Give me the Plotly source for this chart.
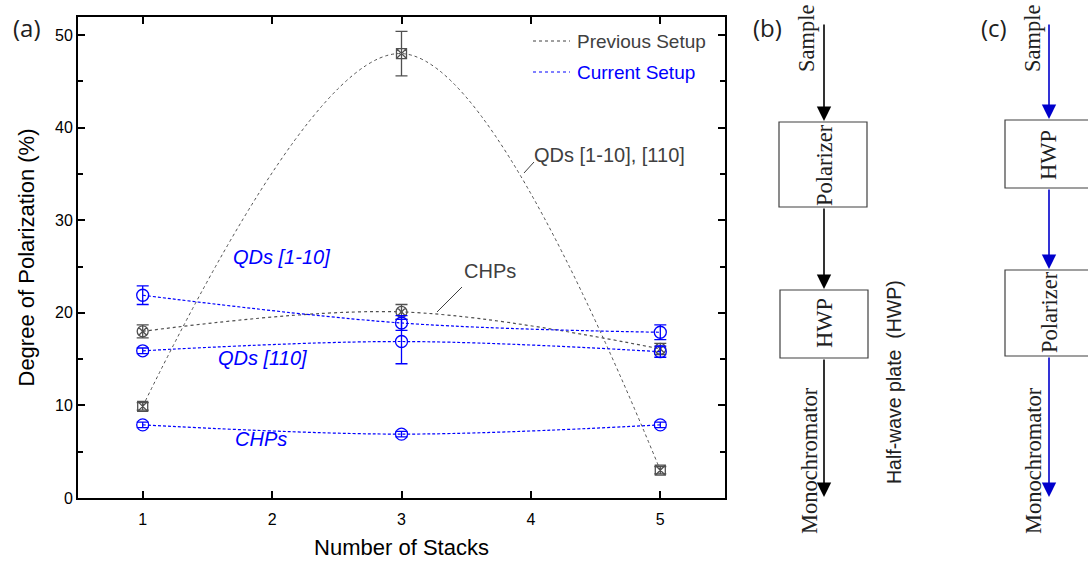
import plotly.graph_objects as go

W, H = 1088, 562

stacks = [1, 3, 5]
prev_qds = [9.9, 48.0, 3.0]
prev_qds_err = [0.4, 2.4, 0.4]
prev_chps = [18.0, 20.1, 16.1]
prev_chps_err = [0.7, 0.8, 0.6]
cur_qd1m10 = [21.9, 18.9, 17.9]
cur_qd1m10_err = [1.0, 0.8, 0.8]
cur_qd110 = [15.9, 16.9, 15.8]
cur_qd110_err = [0.3, 2.4, 0.6]
cur_chps = [7.9, 6.9, 7.9]
cur_chps_err = [0.3, 0.3, 0.3]

x_ticks = [1, 2, 3, 4, 5]
y_ticks = [0, 10, 20, 30, 40, 50]

GRAY = "#505050"
BLUE = "#0000ff"


def px(x):
    return x / W


def py(y):
    return 1 - y / H


fig = go.Figure()


def add_series(y, err, color, symbol, dash, width, size):
    fig.add_trace(go.Scatter(
        x=stacks, y=y, mode="lines+markers",
        line=dict(color=color, dash=dash, width=width, shape="spline"),
        marker=dict(symbol=symbol, size=size, color=color, line=dict(width=1.3, color=color)),
        error_y=dict(type="data", array=err, visible=True, color=color, thickness=1.3, width=6),
        showlegend=False, hoverinfo="skip",
    ))


add_series(prev_qds, prev_qds_err, GRAY, "square-x-open", "dot", 1, 10)
add_series(prev_chps, prev_chps_err, GRAY, "circle-x-open", "dot", 1.2, 11)
add_series(cur_qd1m10, cur_qd1m10_err, BLUE, "circle-open", "3px,2px", 1.2, 12)
add_series(cur_qd110, cur_qd110_err, BLUE, "circle-open", "3px,2px", 1.2, 12)
add_series(cur_chps, cur_chps_err, BLUE, "circle-open", "3px,2px", 1.2, 12)

x0, x1 = px(78), px(725)
y0, y1 = py(498), py(17)

axis_common = dict(showline=True, linecolor="black", linewidth=2, mirror="allticks",
                   ticks="inside", ticklen=7, tickwidth=1.5, tickcolor="black",
                   showgrid=False, zeroline=False, automargin=False,
                   tickfont=dict(family="Liberation Sans", size=16, color="black"))

fig.update_layout(
    width=W, height=H,
    margin=dict(l=0, r=0, t=0, b=0, autoexpand=False),
    paper_bgcolor="white", plot_bgcolor="white",
    xaxis=dict(domain=[x0, x1], range=[0.5, 5.5], tickvals=x_ticks, ticklabelstandoff=6,
               title=dict(text="Number of Stacks", font=dict(family="Liberation Sans", size=22, color="black"), standoff=12),
               **axis_common),
    yaxis=dict(domain=[y0, y1], range=[0, 51.95], tickvals=y_ticks,
               minor=dict(dtick=5, ticks="inside", ticklen=5, tickwidth=1.5, tickcolor="black"),
               title=dict(text="Degree of Polarization (%)", font=dict(family="Liberation Sans", size=22, color="black"), standoff=14),
               **axis_common),
    showlegend=False,
)

annotations = []
shapes = []

# legend (drawn manually)
for label, color, yy in [("Previous Setup", "#404040", 41), ("Current Setup", BLUE, 72)]:
    shapes.append(dict(type="line", xref="paper", yref="paper", x0=px(533), x1=px(570), y0=py(yy), y1=py(yy),
                       line=dict(color=color, dash="dot", width=1)))
    annotations.append(dict(x=px(575), y=py(yy), xref="paper", yref="paper", text=label, showarrow=False,
                            xanchor="left", yanchor="middle",
                            font=dict(family="Liberation Sans", size=19, color=color)))

# chart labels
annotations.append(dict(x=px(532), y=py(155), xref="paper", yref="paper", text="QDs [1-10], [110]",
                        showarrow=False, xanchor="left", yanchor="middle",
                        font=dict(family="Liberation Sans", size=20, color="#404040")))
annotations.append(dict(x=px(462), y=py(271), xref="paper", yref="paper", text="CHPs",
                        showarrow=False, xanchor="left", yanchor="middle",
                        font=dict(family="Liberation Sans", size=20, color="#404040")))
shapes.append(dict(type="line", xref="paper", yref="paper", x0=px(524), y0=py(173), x1=px(534), y1=py(162),
                   line=dict(color="#404040", width=1)))
shapes.append(dict(type="line", xref="paper", yref="paper", x0=px(437), y0=py(312), x1=px(462), y1=py(287),
                   line=dict(color="#404040", width=1)))
for txt, xx, yy in [("QDs [1-10]", 281, 257), ("QDs [110]", 262, 358), ("CHPs", 261, 439)]:
    annotations.append(dict(x=px(xx), y=py(yy), xref="paper", yref="paper", text="<i>" + txt + "</i>",
                            showarrow=False, xanchor="center", yanchor="middle",
                            font=dict(family="Liberation Sans", size=20, color=BLUE)))

# panel letters
for txt, xx in [("(a)", 27), ("(b)", 767), ("(c)", 994)]:
    annotations.append(dict(x=px(xx), y=py(28), xref="paper", yref="paper", text=txt, showarrow=False,
                            xanchor="center", yanchor="middle",
                            font=dict(family="Open Sans", size=24, color="#202020")))

SERIF = dict(family="Liberation Serif", size=22.5, color="#202020")


def vtext(txt, xx, yy, font=SERIF):
    annotations.append(dict(x=px(xx), y=py(yy), xref="paper", yref="paper", text=txt, showarrow=False,
                            textangle=-90, xanchor="center", yanchor="middle", font=font))


def arrow(xx, ytop, ybot, color):
    annotations.append(dict(x=px(xx), y=py(ybot), xref="paper", yref="paper", ax=0, ay=-(ybot - ytop),
                            axref="pixel", ayref="pixel", showarrow=True, arrowhead=2, arrowsize=1.8,
                            arrowwidth=1.6, arrowcolor=color, text=""))


def box(xa, ya, xb, yb):
    shapes.append(dict(type="rect", xref="paper", yref="paper", x0=px(xa), y0=py(ya), x1=px(xb), y1=py(yb),
                       line=dict(color="#404040", width=1.2), fillcolor="rgba(0,0,0,0)"))


# panel (b)
arrow(824, 23, 121, "black")
vtext("Sample", 806, 38)
box(779, 122, 867, 207)
vtext("Polarizer", 824, 165)
arrow(824, 207, 289, "black")
box(780, 290, 868, 358)
vtext("HWP", 824, 323)
arrow(824, 358, 497, "black")
vtext("Monochromator", 809, 461)
vtext("Half-wave plate  (HWP)", 894, 382, font=dict(family="Liberation Sans", size=19.5, color="#202020"))

# panel (c)
arrow(1049, 23, 119, "#0000cc")
vtext("Sample", 1032, 38)
box(1005, 120, 1094, 188)
vtext("HWP", 1049, 155)
arrow(1049, 188, 269, "#0000cc")
box(1005, 270, 1094, 356)
vtext("Polarizer", 1049, 312)
arrow(1049, 356, 497, "#0000cc")
vtext("Monochromator", 1033, 461)

fig.update_layout(annotations=annotations, shapes=shapes)
fig.write_html("out.html")
